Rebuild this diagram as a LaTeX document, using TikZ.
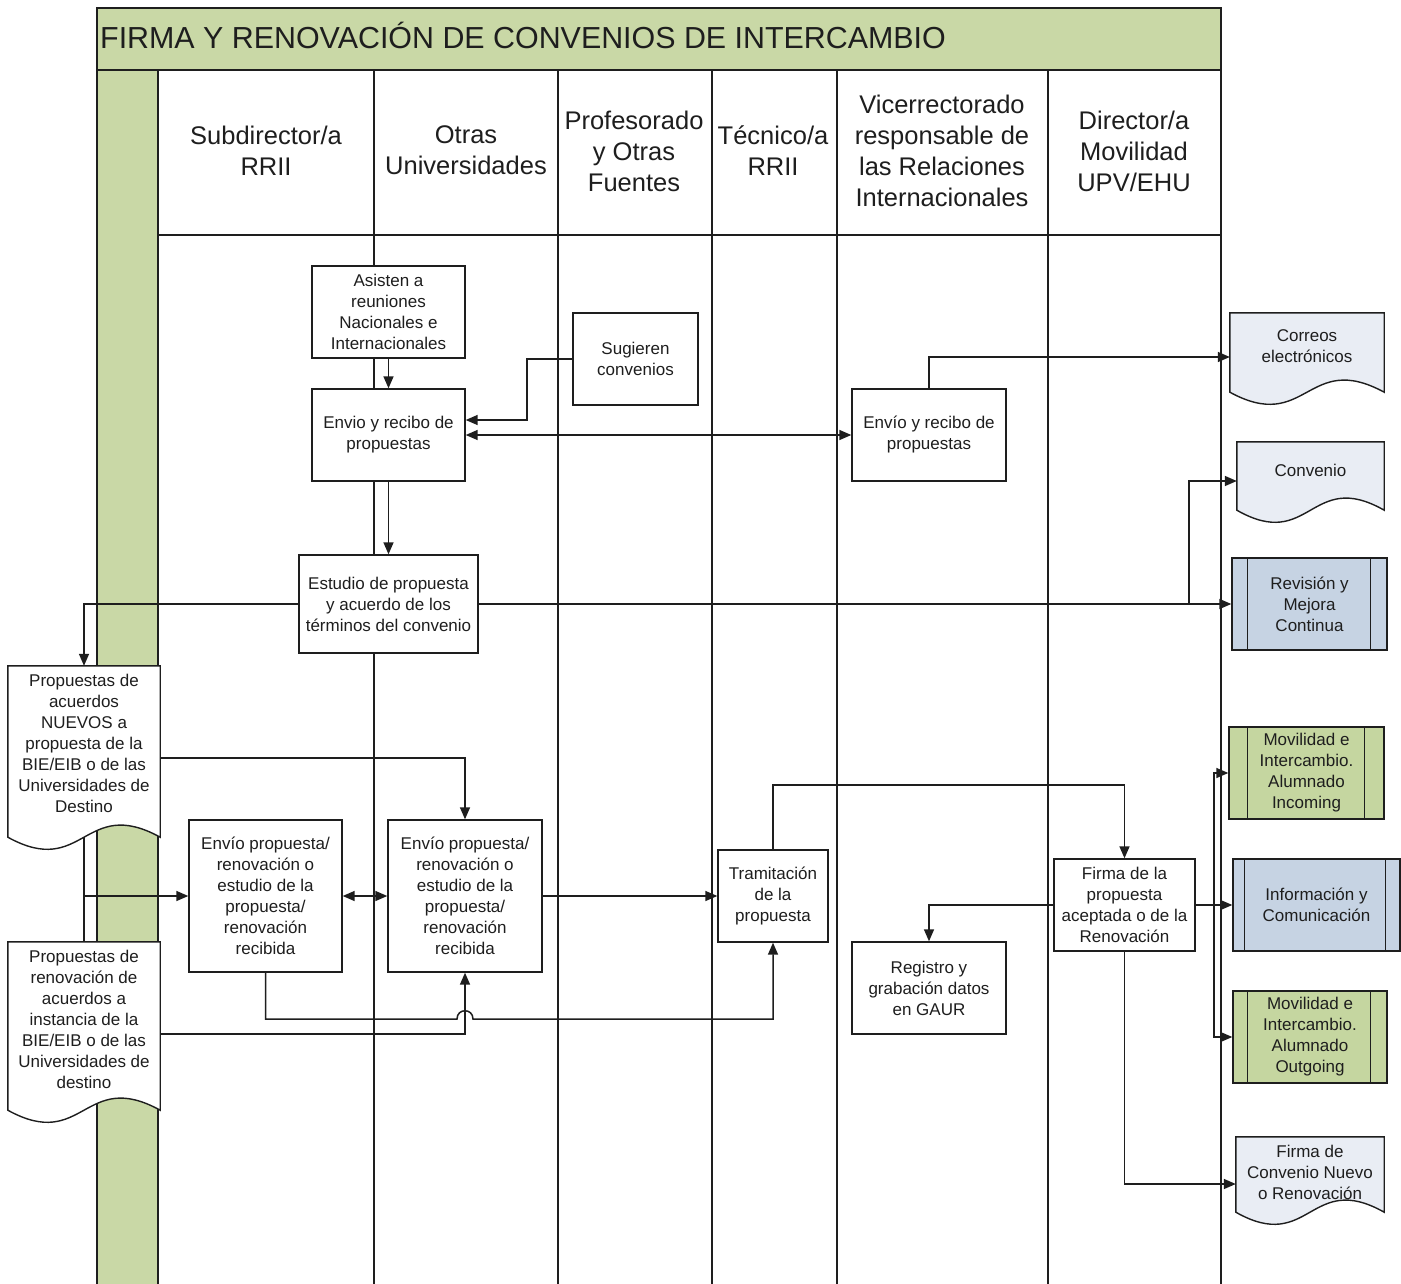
\documentclass[tikz,border=0pt]{standalone}
\usepackage{fontspec}
\setmainfont{Liberation Sans}
\usetikzlibrary{arrows.meta,calc}
\pgfdeclarelayer{back}
\pgfdeclarelayer{docs}
\pgfsetlayers{back,docs,main}
\definecolor{bandgreen}{RGB}{201,216,166}
\definecolor{boxgreen}{RGB}{197,214,160}
\definecolor{boxblue}{RGB}{198,211,227}
\definecolor{docfill}{RGB}{233,237,244}
\definecolor{ink}{RGB}{30,30,30}
\newcommand\docoutline[3]{%
  \filldraw[docline, fill=#3] (#1.north west) -- (#1.north east) -- ([yshift=-#2pt]#1.south east)
   .. controls ([yshift={(42-#2)*1pt}]#1.south) and ([yshift={(-42-#2)*1pt}]#1.south) .. ([yshift=-#2pt]#1.south west) -- cycle;}
\tikzset{
 lane/.style={line width=1.6pt, draw=ink},
 frame/.style={line width=2.2pt, draw=ink},
 box/.style={draw=ink, fill=white, line width=1.4pt, align=center, inner sep=0pt, text=ink, font=\fontsize{17}{21}\selectfont},
 pbox/.style={box, fill=#1},
 doctext/.style={align=center, inner sep=0pt, text=ink, font=\fontsize{17}{21}\selectfont},
 docline/.style={draw=ink, line width=1.4pt},
 head/.style={align=center, font=\fontsize{25.5}{31}\selectfont, text=ink},
 conn/.style={line width=1.5pt, draw=ink},
 arr/.style={conn, -{Triangle[length=12pt,width=10pt]}},
 arr2/.style={conn, {Triangle[length=12pt,width=10pt]}-{Triangle[length=12pt,width=10pt]}},
}
\begin{document}
\begin{tikzpicture}[x=1pt,y=-1pt]
\useasboundingbox (0,0) rectangle (1401,1284);
\begin{pgfonlayer}{back}
 \fill[white] (0,0) rectangle (1401,1284);
 \fill[bandgreen] (97,8) rectangle (1221,70);
 \fill[bandgreen] (97,70) rectangle (158,1284);
 \draw[frame] (97,1284) -- (97,8) -- (1221,8) -- (1221,1284);
 \draw[line width=2.8pt, draw=ink] (97,70) -- (1221,70);
 \foreach \x in {158,374,558,712,837,1048} \draw[lane] (\x,70) -- (\x,1284);
 \draw[lane] (158,235) -- (1221,235);
\end{pgfonlayer}

% title and headers
\node[anchor=base west, inner sep=0pt, font=\fontsize{30.4}{36}\selectfont, text=ink] (title) at (100,49) {FIRMA Y RENOVACIÓN DE CONVENIOS DE INTERCAMBIO};
\node[head] (h1) at (266,150.5) {Subdirector/a\\RRII};
\node[head] (h2) at (466,150.5) {Otras\\Universidades};
\node[head] (h3) at (634,151) {Profesorado\\y Otras\\Fuentes};
\node[head] (h4) at (773,150.5) {Técnico/a\\RRII};
\node[head] (h5) at (942,150.5) {Vicerrectorado\\responsable de\\las Relaciones\\Internacionales};
\node[head] (h6) at (1134,151) {Director/a\\Movilidad\\UPV/EHU};

% process boxes
\node[box, minimum width=153pt, minimum height=92pt] (asis) at (388.5,312) {Asisten a\\reuniones\\Nacionales e\\Internacionales};
\node[box, minimum width=125pt, minimum height=92pt] (sug) at (635.5,359) {Sugieren\\convenios};
\node[box, minimum width=153pt, minimum height=92pt] (envL) at (388.5,435) {Envio y recibo de\\propuestas};
\node[box, minimum width=154pt, minimum height=92pt] (envR) at (929,435) {Envío y recibo de\\propuestas};
\node[box, minimum width=179pt, minimum height=98pt] (est) at (388.5,604) {Estudio de propuesta\\y acuerdo de los\\términos del convenio};
\node[box, minimum width=153pt, minimum height=152pt] (b11) at (265.5,896) {Envío propuesta/\\renovación o\\estudio de la\\propuesta/\\renovación\\recibida};
\node[box, minimum width=154pt, minimum height=152pt] (b12) at (465,896) {Envío propuesta/\\renovación o\\estudio de la\\propuesta/\\renovación\\recibida};
\node[box, minimum width=110pt, minimum height=92pt] (tram) at (773,896) {Tramitación\\de la\\propuesta};
\node[box, minimum width=154pt, minimum height=92pt] (reg) at (929,988) {Registro y\\grabación datos\\en GAUR};
\node[box, minimum width=141pt, minimum height=92pt] (firma) at (1124.5,905) {Firma de la\\propuesta\\aceptada o de la\\Renovación};

% predefined processes
\node[pbox=boxblue, minimum width=155pt, minimum height=92pt] (rev) at (1309.5,604) {Revisión y\\Mejora\\Continua};
\node[pbox=boxgreen, minimum width=155pt, minimum height=92pt] (inc) at (1306.5,773) {Movilidad e\\Intercambio.\\Alumnado\\Incoming};
\node[pbox=boxblue, minimum width=167pt, minimum height=92pt] (info) at (1316.5,905) {Información y\\Comunicación};
\node[pbox=boxgreen, minimum width=154pt, minimum height=92pt] (out) at (1310,1037) {Movilidad e\\Intercambio.\\Alumnado\\Outgoing};
\foreach \n/\l/\r in {rev/16/17, inc/19/20, info/12/15, out/15/17}{
  \draw[docline] ([xshift=\l pt]\n.north west) -- ([xshift=\l pt]\n.south west);
  \draw[docline] ([xshift=-\r pt]\n.north east) -- ([xshift=-\r pt]\n.south east);
}

% documents
\node[doctext, minimum width=154pt, minimum height=66pt] (corr) at (1307,346) {Correos\\electrónicos};
\node[doctext, minimum width=147pt, minimum height=56pt] (conv) at (1310.5,470) {Convenio};
\node[doctext, minimum width=148pt, minimum height=70pt] (fcon) at (1310,1172) {Firma de\\Convenio Nuevo\\o Renovación};
\node[doctext, minimum width=152pt, minimum height=154pt] (nuevo) at (84,743) {Propuestas de\\acuerdos\\NUEVOS a\\propuesta de la\\BIE/EIB o de las\\Universidades de\\Destino};
\node[doctext, minimum width=152pt, minimum height=155pt] (renov) at (84,1019.5) {Propuestas de\\renovación de\\acuerdos a\\instancia de la\\BIE/EIB o de las\\Universidades de\\destino};
\begin{pgfonlayer}{docs}
 \docoutline{corr}{13}{docfill}
 \docoutline{conv}{12}{docfill}
 \docoutline{fcon}{5}{docfill}
 \docoutline{nuevo}{17}{white}
 \docoutline{renov}{13}{white}
\end{pgfonlayer}

% helper coordinates
\coordinate (s1) at (527,420);
\coordinate (br1) at (1189,604);
\coordinate (h1) at (457,1019);
\coordinate (h2) at (473,1019);
\coordinate (t1) at (0,785);
\coordinate (v1) at (1214,0);

% connectors
\draw[arr] (asis.south) -- (envL.north);
\draw[arr] (sug.west) -| (s1) -- (s1 -| envL.east);
\draw[arr2] (envL.east) -- (envR.west);
\draw[arr] (envR.north) |- ([yshift=-11pt]corr.west);
\draw[arr] (envL.south) -- (est.north);
\draw[arr] (est.east) -- (rev.west);
\draw[arr] (br1) |- ([yshift=-11pt]conv.west);
\draw[arr] (est.west) -| (nuevo.north);
\draw[arr] ([yshift=-15pt]nuevo.east) -| (b12.north);
\draw[conn] ([yshift=-17pt]nuevo.south) -- (renov.north);
\draw[arr] (nuevo.south |- b11.west) -- (b11.west);
\draw[arr2] (b11.east) -- (b12.west);
\draw[arr] (b11.south) |- (h1) .. controls ([yshift=11pt]h1) and ([yshift=11pt]h2) .. (h2) -| (tram.south);
\draw[arr] ([yshift=-14.5pt]renov.east) -| (b12.south);
\draw[arr] (b12.east) -- (tram.west);
\draw[arr] (tram.north) -- (tram.north |- t1) -| (firma.north);
\draw[arr] (firma.west) -| (reg.north);
\draw[arr] (firma.east) -- (info.west);
\draw[arr] (v1 |- firma.east) |- (inc.west);
\draw[arr] (v1 |- firma.east) |- (out.west);
\draw[arr] (firma.south) |- ([yshift=-12pt]fcon.west);
\end{tikzpicture}
\end{document}
